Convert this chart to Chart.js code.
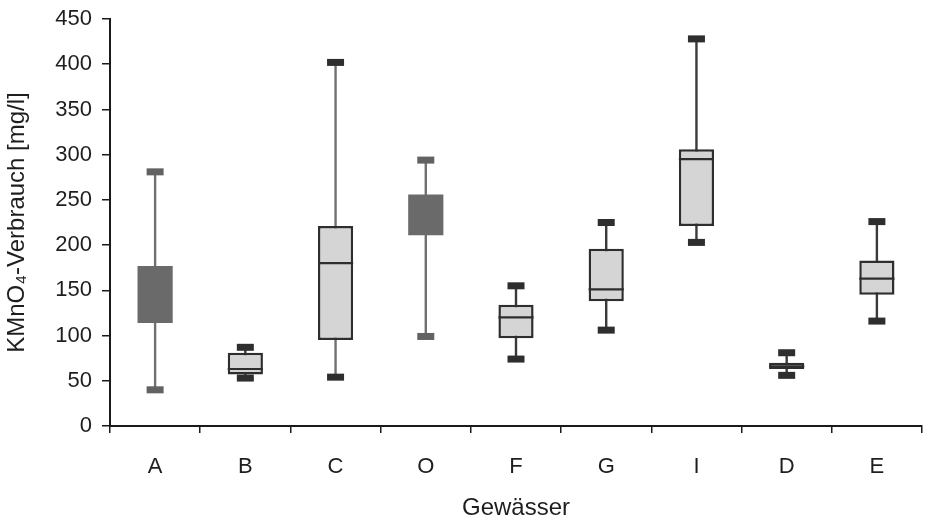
<!DOCTYPE html>
<html>
<head>
<meta charset="utf-8">
<script src="https://cdn.jsdelivr.net/npm/chart.js@4.4.1/dist/chart.umd.min.js"></script>
<style>
  html, body { margin: 0; padding: 0; background: #ffffff; }
  #wrap { width: 929px; height: 525px; position: relative; }
</style>
</head>
<body>
<div id="wrap"><canvas id="chart"></canvas></div>
<script>
// KMnO4 consumption per water body: whisker ends, quartiles and medians
const categories   = ['A', 'B', 'C', 'O', 'F', 'G', 'I', 'D', 'E'];
const minValues    = [40, 53, 54, 99, 74, 106, 203, 56, 116];
const q1Values     = [114, 57, 95, 211, 97, 138, 221, 63, 145];
const medianValues = [146, 63, 180, 232, 120, 151, 295, 66, 163];
const q3Values     = [177, 81, 221, 256, 134, 196, 306, 70, 183];
const maxValues    = [281, 87, 402, 294, 155, 225, 428, 81, 226];
const yTickValues  = [0, 50, 100, 150, 200, 250, 300, 350, 400, 450];

// Shaded (dark) boxes vs. light boxes
const darkGroups = ['A', 'O'];
const isDark = categories.map(c => darkGroups.includes(c));
const boxFill     = isDark.map(d => d ? '#6a6a6a' : '#d5d5d5');
const boxBorder   = isDark.map(d => d ? '#6a6a6a' : '#2e2e2e');
const boxBorderW  = isDark.map(d => d ? 0 : 2.5);
const whiskerLine = categories.map((c, i) => (isDark[i] || c === 'C') ? '#707070' : '#3a3a3a');
const capColor    = isDark.map(d => d ? '#626262' : '#2e2e2e');

const FONT = '"Liberation Sans", Arial, Helvetica, sans-serif';

// Whiskers behind the boxes, caps and medians on top
const boxWhiskers = {
  id: 'boxWhiskers',
  beforeDatasetsDraw(chart) {
    const { ctx, scales: { y } } = chart;
    const meta = chart.getDatasetMeta(0);
    ctx.save();
    meta.data.forEach((bar, i) => {
      ctx.strokeStyle = whiskerLine[i];
      ctx.lineWidth = 2.4;
      ctx.beginPath();
      ctx.moveTo(bar.x, y.getPixelForValue(minValues[i]));
      ctx.lineTo(bar.x, y.getPixelForValue(maxValues[i]));
      ctx.stroke();
    });
    ctx.restore();
  },
  afterDatasetsDraw(chart) {
    const { ctx, scales: { y } } = chart;
    const meta = chart.getDatasetMeta(0);
    ctx.save();
    meta.data.forEach((bar, i) => {
      const capW = 17, capH = 7;
      ctx.fillStyle = capColor[i];
      [minValues[i], maxValues[i]].forEach(v => {
        const py = y.getPixelForValue(v);
        ctx.fillRect(bar.x - capW / 2, py - capH / 2, capW, capH);
      });
      if (!isDark[i]) {
        const my = y.getPixelForValue(medianValues[i]);
        ctx.strokeStyle = '#2e2e2e';
        ctx.lineWidth = 2.2;
        ctx.beginPath();
        ctx.moveTo(bar.x - bar.width / 2, my);
        ctx.lineTo(bar.x + bar.width / 2, my);
        ctx.stroke();
      }
    });
    ctx.restore();
  }
};

new Chart(document.getElementById('chart'), {
  type: 'bar',
  data: {
    labels: categories,
    datasets: [{
      data: categories.map((c, i) => [q1Values[i], q3Values[i]]),
      backgroundColor: boxFill,
      borderColor: boxBorder,
      borderWidth: boxBorderW,
      borderSkipped: false,
      barPercentage: 0.39,
      categoryPercentage: 1.0
    }]
  },
  options: {
    responsive: true,
    maintainAspectRatio: false,
    animation: false,
    devicePixelRatio: 1,
    layout: { padding: { top: 19, right: 7, bottom: 0, left: 0 } },
    plugins: { legend: { display: false }, tooltip: { enabled: false } },
    scales: {
      x: {
        type: 'category',
        offset: true,
        afterFit(scale) { scale.height = 99; },
        grid: { display: true, offset: true, drawOnChartArea: false, drawTicks: true, tickLength: 7, color: '#1a1a1a', lineWidth: 1.5 },
        border: { display: true, color: '#1a1a1a', width: 2 },
        ticks: { color: '#1e1e1e', font: { family: FONT, size: 22 }, padding: 21, maxRotation: 0 },
        title: { display: true, text: 'Gewässer', color: '#1e1e1e', font: { family: FONT, size: 24 }, padding: { top: 0, bottom: 2 } }
      },
      y: {
        min: 0,
        max: 450,
        afterFit(scale) {
          scale.width = 110;
          scale.paddingTop = 0;
          scale.paddingBottom = 0;
        },
        afterBuildTicks(scale) { scale.ticks = yTickValues.map(v => ({ value: v })); },
        grid: { display: true, drawOnChartArea: false, drawTicks: true, tickLength: 8, color: '#1a1a1a', lineWidth: 1.5 },
        border: { display: true, color: '#1a1a1a', width: 2 },
        ticks: { color: '#1e1e1e', font: { family: FONT, size: 22 }, padding: 10 },
        title: { display: true, text: 'KMnO₄-Verbrauch [mg/l]', color: '#1e1e1e', font: { family: FONT, size: 24 }, padding: { top: 3, bottom: 0 } }
      }
    }
  },
  plugins: [boxWhiskers]
});
</script>
</body>
</html>
